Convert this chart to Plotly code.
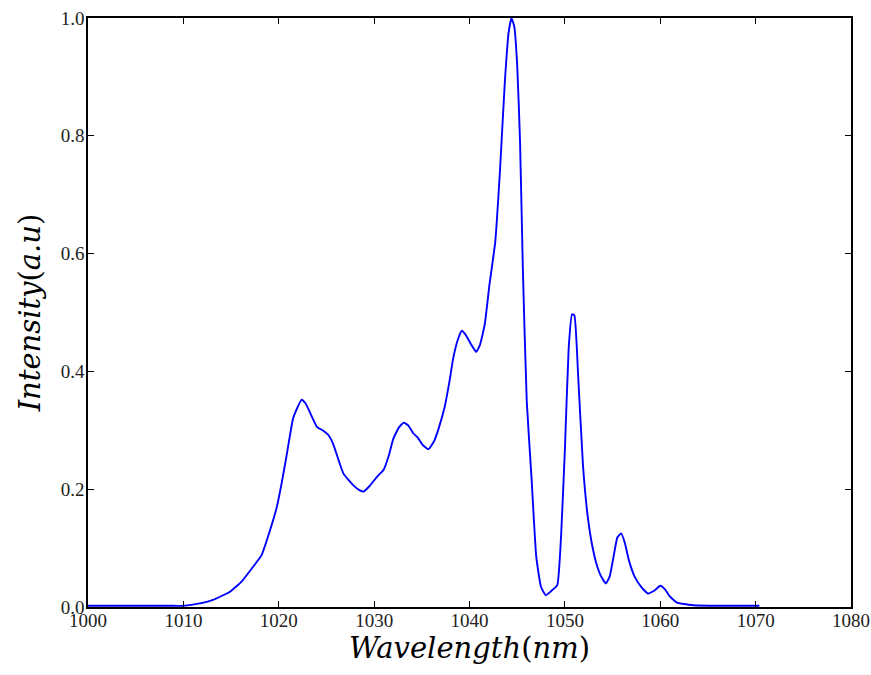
import plotly.graph_objects as go

wavelength = [1000, 1003, 1006, 1009, 1010, 1011, 1012, 1013.1, 1014.9, 1016.1, 1017.2, 1018.2,
              1019.1, 1019.8, 1020.3, 1020.8, 1021.5, 1022.0, 1022.4, 1022.8, 1023.2,
              1024.0, 1024.6, 1025.2, 1025.7, 1026.3, 1026.8, 1027.8, 1028.5, 1028.9, 1029.5,
              1030.3, 1031.0, 1031.5, 1032.0, 1032.6, 1033.1, 1033.6, 1034.1, 1034.6, 1035.1,
              1035.7, 1036.3, 1036.8, 1037.4, 1037.9, 1038.3, 1038.8, 1039.2, 1039.6, 1040.2,
              1040.7, 1041.1, 1041.6, 1042.1, 1042.7, 1043.2, 1043.7, 1044.1, 1044.4, 1044.7,
              1045.0, 1045.3, 1045.6, 1046.0, 1046.5, 1047.0, 1047.5, 1048.0, 1048.5, 1049.2,
              1049.6, 1050.0, 1050.4, 1050.75, 1051.0, 1051.4, 1051.9, 1052.4, 1052.8, 1053.3,
              1053.8, 1054.3, 1054.7, 1055.1, 1055.5, 1055.9, 1056.3, 1056.7, 1057.3, 1058.0,
              1058.7, 1059.4, 1060.0, 1060.5, 1061.0, 1061.7, 1062.5, 1063.5, 1066, 1070.4]
intensity = [0.002, 0.002, 0.002, 0.002, 0.002, 0.004, 0.007, 0.012, 0.026, 0.043, 0.066, 0.088,
             0.131, 0.170, 0.210, 0.255, 0.320, 0.340, 0.352, 0.346, 0.333,
             0.306, 0.300, 0.292, 0.277, 0.248, 0.226, 0.207, 0.198, 0.196, 0.205,
             0.221, 0.233, 0.255, 0.285, 0.305, 0.313, 0.308, 0.295, 0.287, 0.275,
             0.268, 0.282, 0.305, 0.340, 0.383, 0.423, 0.455, 0.469, 0.462, 0.445,
             0.433, 0.445, 0.480, 0.548, 0.620, 0.742, 0.890, 0.975, 1.0, 0.985,
             0.92, 0.79, 0.57, 0.35, 0.22, 0.085, 0.034, 0.020, 0.026, 0.037,
             0.12, 0.267, 0.44, 0.497, 0.495, 0.39, 0.24, 0.153, 0.11, 0.074,
             0.052, 0.040, 0.052, 0.085, 0.118, 0.125, 0.108, 0.080, 0.052, 0.034,
             0.023, 0.028, 0.036, 0.030, 0.018, 0.008, 0.005, 0.003, 0.002, 0.002]

x_ticks = [1000, 1010, 1020, 1030, 1040, 1050, 1060, 1070, 1080]
y_ticks = [0.0, 0.2, 0.4, 0.6, 0.8, 1.0]

serif = "Liberation Serif, DejaVu Serif, serif"
label_font = "DejaVu Serif, Liberation Serif, serif"

fig = go.Figure()
fig.add_trace(go.Scatter(x=wavelength, y=intensity, mode="lines",
                         line=dict(color="#0000ff", width=1.9, shape="spline", smoothing=0.4),
                         showlegend=False))

axis_common = dict(showline=True, linecolor="black", linewidth=1.5, mirror="allticks",
                   ticks="inside", ticklen=6, tickwidth=1, tickcolor="black",
                   showgrid=False, zeroline=False, automargin=False,
                   tickfont=dict(family=serif, size=19, color="#222"))

fig.update_xaxes(range=[1000, 1080], tickvals=x_ticks, ticktext=[str(v) for v in x_ticks],
                 ticklabelstandoff=-5,
                 title=dict(text="<i>Wavelength</i>(<i>nm</i>)",
                            font=dict(family=label_font, size=29, color="black"), standoff=4),
                 **axis_common)
fig.update_yaxes(range=[0, 1.0], tickvals=y_ticks, ticktext=[f"{v:.1f}" for v in y_ticks],
                 ticklabelstandoff=-2,
                 title=dict(text="<i>Intensity</i>(<i>a.u</i>)",
                            font=dict(family=label_font, size=29, color="black"), standoff=12),
                 **axis_common)

fig.update_layout(width=871, height=675, paper_bgcolor="white", plot_bgcolor="white",
                  margin=dict(l=88, r=20, t=18, b=68))

fig.write_html("out.html")
